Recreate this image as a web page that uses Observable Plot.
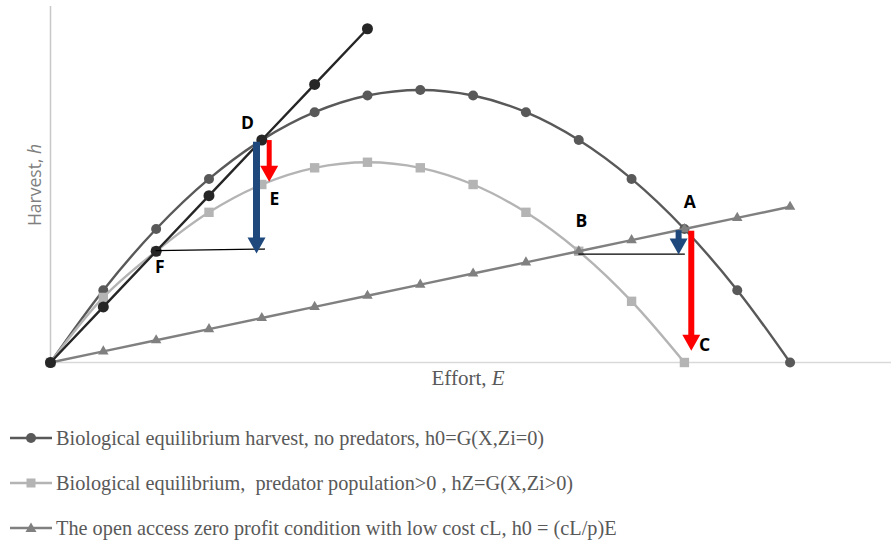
<!DOCTYPE html>
<html><head><meta charset="utf-8">
<script src="https://cdn.jsdelivr.net/npm/d3@7"></script>
<script src="https://cdn.jsdelivr.net/npm/@observablehq/plot@0.6"></script>
<style>
html,body{margin:0;padding:0;background:#fff;}
#wrap{position:relative;width:891px;height:544px;overflow:hidden;}
#chart{position:absolute;left:0;top:0;}
.leg{position:absolute;left:0;height:24px;display:flex;align-items:center;font-family:"Liberation Serif","Times New Roman",serif;font-size:20.3px;color:#595959;white-space:pre;}
.leg svg{display:block;}
</style></head><body><div id="wrap"><div id="chart"></div></div>
<script>
// ---- data ----
const effortA = [0,1,2,3,4,5,6,7,8,9,10,11,12,13,14];
const harvestNoPred = [0,13,24,33,40,45,48,49,48,45,40,33,24,13,0];
const effortB = [0,1,2,3,4,5,6,7,8,9,10,11,12];
const harvestPred = [0,11.7,20,27,32,35,36,35,32,27,20,11,0];
const effortC = [0,1,2,3,4,5,6,7,8,9,10,11,12,13,14];
const harvestOpen = [0,2,4,6,8,10,12,14,16,18,20,22,24,26,28];
const effortD = [0,1,2,3,4,5,6];
const harvestRay = [0,10,20,30,40,50,60];

const arrowColor = ["blue","red","blue","red"];
const arrowX = [3.9, 4.14, 11.89, 12.13];
const arrowTop = [39.6, 39.9, 23.7, 23.6];
const arrowTip = [19.6, 32.5, 19.4, 2.1];
const arrowWidth = [7, 5, 6, 6];

const guideId = ["F","F","B","B"];
const guideX = [2, 4.05, 10, 12];
const guideY = [20.1, 20.4, 19.5, 19.5];

const labelText = ["A","B","C","D","E","F"];
const labelX = [12.1, 10.05, 12.38, 3.73, 4.24, 2.07];
const labelY = [28.75, 25.3, 3.0, 43.0, 29.3, 17.1];

const legendNames = [
  "Biological equilibrium harvest, no predators, h0=G(X,Zi=0)",
  "Biological equilibrium,  predator population>0 , hZ=G(X,Zi>0)",
  "The open access zero profit condition with low cost cL, h0 = (cL/p)E"
];

// ---- tables ----
const s1 = effortA.map((e,i)=>({e, h: harvestNoPred[i]}));
const s2 = effortB.map((e,i)=>({e, h: harvestPred[i]}));
const s3 = effortC.map((e,i)=>({e, h: harvestOpen[i]}));
const s4 = effortD.map((e,i)=>({e, h: harvestRay[i]}));
const arrows = arrowX.map((x,i)=>({x, top: arrowTop[i], tip: arrowTip[i], c: arrowColor[i], w: arrowWidth[i]}));
const guides = guideX.map((x,i)=>({x, y: guideY[i], id: guideId[i]}));
const labels = labelText.map((t,i)=>({t, x: labelX[i], y: labelY[i]}));

const C1 = "#595959", C2 = "#b4b4b4", C3 = "#808080", C4 = "#262626";
const colorOf = {blue: "#1f497d", red: "#ff0000"};
const downHead = {draw(ctx){ ctx.moveTo(0,0); ctx.lineTo(-9,-16); ctx.lineTo(9,-16); ctx.closePath(); }};

const arrowMarks = ["blue","red"].flatMap(k => {
  const d = arrows.filter(a => a.c === k);
  return d.map(a => [
    Plot.ruleX([a], {x: "x", y1: "top", y2: r => r.tip + 1.6, stroke: colorOf[k], strokeWidth: a.w}),
    Plot.dot([a], {x: "x", y: "tip", symbol: downHead, r: 5, fill: colorOf[k]})
  ]).flat();
});

const chart = Plot.plot({
  width: 891, height: 395,
  marginLeft: 50, marginRight: 0, marginTop: 6, marginBottom: 33,
  x: {domain: [0, 15.92], axis: null},
  y: {domain: [0, 64], axis: null},
  style: {background: "transparent", overflow: "visible"},
  marks: [
    Plot.ruleY([0], {stroke: "#d9d9d9", strokeWidth: 1.5}),
    Plot.ruleX([0], {stroke: "#c8c8c8", strokeWidth: 1.5}),
    Plot.line(s1, {x: "e", y: "h", stroke: C1, strokeWidth: 2.4, curve: "catmull-rom"}),
    Plot.dot(s1, {x: "e", y: "h", r: 5, fill: C1}),
    Plot.line(s2, {x: "e", y: "h", stroke: C2, strokeWidth: 2.4, curve: "catmull-rom"}),
    Plot.dot(s2, {x: "e", y: "h", r: 5.3, symbol: "square", fill: C2}),
    Plot.line(s3, {x: "e", y: "h", stroke: C3, strokeWidth: 2.4}),
    Plot.dot(s3, {x: "e", y: "h", r: 5, symbol: "triangle2", fill: C3}),
    Plot.line(s4, {x: "e", y: "h", stroke: C4, strokeWidth: 2.4}),
    Plot.dot(s4, {x: "e", y: "h", r: 5.5, fill: C4}),
    Plot.line(guides, {x: "x", y: "y", z: "id", stroke: "#000", strokeWidth: 1.3}),
    ...arrowMarks,
    Plot.text(labels, {x: "x", y: "y", text: "t", fill: "#000", fontSize: 17.5, fontWeight: 700, fontFamily: "'Open Sans', sans-serif"})
  ]
});

const svg = d3.select(chart);
const ty = svg.append("text")
  .attr("transform", "translate(34,185) rotate(-90)")
  .attr("text-anchor", "middle").attr("dominant-baseline", "central")
  .attr("font-family", "'Open Sans', sans-serif").attr("font-size", 17.5).attr("fill", "#7f7f7f");
ty.append("tspan").text("Harvest, ");
ty.append("tspan").attr("font-style", "italic").text("h");
const tx = svg.append("text")
  .attr("x", 468).attr("y", 385)
  .attr("text-anchor", "middle")
  .attr("font-family", "'Liberation Serif', 'Times New Roman', serif").attr("font-size", 21).attr("fill", "#595959");
tx.append("tspan").text("Effort, ");
tx.append("tspan").attr("font-style", "italic").text("E");

document.getElementById("chart").appendChild(chart);

// ---- legend (HTML below the plot) ----
const wrap = document.getElementById("wrap");
const legTops = [426, 471, 516];
const legColors = [C1, C2, C3];
const legSym = ["circle", "square", "triangle"];
legendNames.forEach((name, i) => {
  const div = document.createElement("div");
  div.className = "leg";
  div.style.top = legTops[i] + "px";
  const s = d3.create("svg").attr("width", 56).attr("height", 24);
  s.append("line").attr("x1", 10).attr("x2", 52).attr("y1", 12).attr("y2", 12).attr("stroke", legColors[i]).attr("stroke-width", 2.6);
  if (legSym[i] === "circle") s.append("circle").attr("cx", 31).attr("cy", 12).attr("r", 5).attr("fill", legColors[i]);
  else if (legSym[i] === "square") s.append("rect").attr("x", 26.5).attr("y", 7.5).attr("width", 9).attr("height", 9).attr("fill", legColors[i]);
  else s.append("path").attr("d", "M31,6.5 L36.5,16 L25.5,16 Z").attr("fill", legColors[i]);
  div.appendChild(s.node());
  const span = document.createElement("span");
  span.textContent = name;
  div.appendChild(span);
  wrap.appendChild(div);
});
</script>
</body></html>
